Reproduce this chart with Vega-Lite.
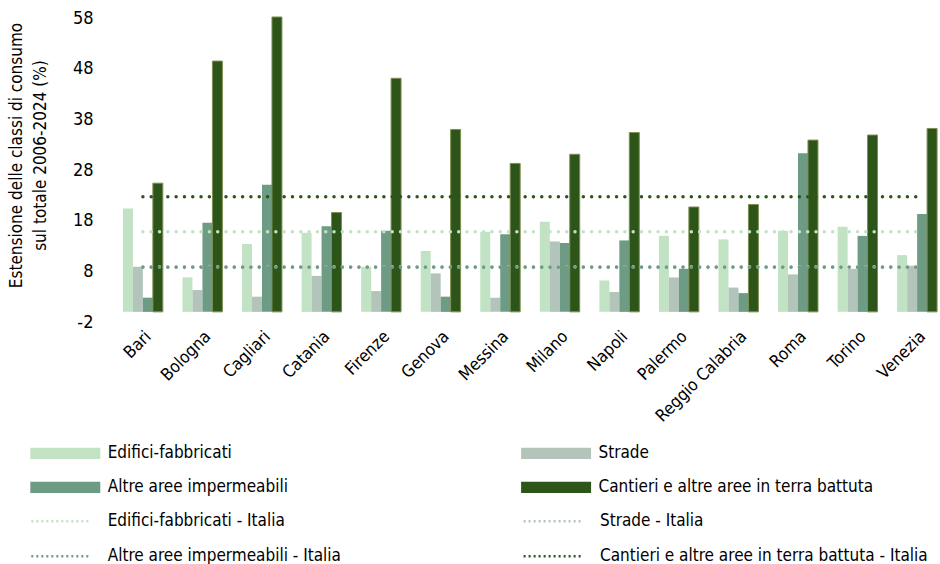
{
  "$schema": "https://vega.github.io/schema/vega-lite/v6.json",
  "width": 832,
  "height": 304,
  "autosize": "none",
  "padding": {"left": 114, "top": 18, "right": 0, "bottom": 242},
  "background": "white",
  "config": {"font": "DejaVu Sans Condensed, Liberation Sans, sans-serif", "view": {"stroke": null}},
  "datasets": {
    "bars": [
      {"city": "Bari", "series": "Edifici-fabbricati", "value": 20.4},
      {"city": "Bari", "series": "Strade", "value": 8.9},
      {"city": "Bari", "series": "Altre aree impermeabili", "value": 2.8},
      {"city": "Bari", "series": "Cantieri e altre aree in terra battuta", "value": 25.4},
      {"city": "Bologna", "series": "Edifici-fabbricati", "value": 6.8},
      {"city": "Bologna", "series": "Strade", "value": 4.3},
      {"city": "Bologna", "series": "Altre aree impermeabili", "value": 17.6},
      {"city": "Bologna", "series": "Cantieri e altre aree in terra battuta", "value": 49.5},
      {"city": "Cagliari", "series": "Edifici-fabbricati", "value": 13.4},
      {"city": "Cagliari", "series": "Strade", "value": 3.0},
      {"city": "Cagliari", "series": "Altre aree impermeabili", "value": 25.1},
      {"city": "Cagliari", "series": "Cantieri e altre aree in terra battuta", "value": 58.2},
      {"city": "Catania", "series": "Edifici-fabbricati", "value": 15.6},
      {"city": "Catania", "series": "Strade", "value": 7.1},
      {"city": "Catania", "series": "Altre aree impermeabili", "value": 16.9},
      {"city": "Catania", "series": "Cantieri e altre aree in terra battuta", "value": 19.6},
      {"city": "Firenze", "series": "Edifici-fabbricati", "value": 8.9},
      {"city": "Firenze", "series": "Strade", "value": 4.1},
      {"city": "Firenze", "series": "Altre aree impermeabili", "value": 16.0},
      {"city": "Firenze", "series": "Cantieri e altre aree in terra battuta", "value": 46.1},
      {"city": "Genova", "series": "Edifici-fabbricati", "value": 12.0},
      {"city": "Genova", "series": "Strade", "value": 7.6},
      {"city": "Genova", "series": "Altre aree impermeabili", "value": 3.0},
      {"city": "Genova", "series": "Cantieri e altre aree in terra battuta", "value": 36.0},
      {"city": "Messina", "series": "Edifici-fabbricati", "value": 15.8},
      {"city": "Messina", "series": "Strade", "value": 2.8},
      {"city": "Messina", "series": "Altre aree impermeabili", "value": 15.3},
      {"city": "Messina", "series": "Cantieri e altre aree in terra battuta", "value": 29.3},
      {"city": "Milano", "series": "Edifici-fabbricati", "value": 17.8},
      {"city": "Milano", "series": "Strade", "value": 13.9},
      {"city": "Milano", "series": "Altre aree impermeabili", "value": 13.6},
      {"city": "Milano", "series": "Cantieri e altre aree in terra battuta", "value": 31.1},
      {"city": "Napoli", "series": "Edifici-fabbricati", "value": 6.2},
      {"city": "Napoli", "series": "Strade", "value": 3.9},
      {"city": "Napoli", "series": "Altre aree impermeabili", "value": 14.1},
      {"city": "Napoli", "series": "Cantieri e altre aree in terra battuta", "value": 35.4},
      {"city": "Palermo", "series": "Edifici-fabbricati", "value": 15.0},
      {"city": "Palermo", "series": "Strade", "value": 6.8},
      {"city": "Palermo", "series": "Altre aree impermeabili", "value": 8.5},
      {"city": "Palermo", "series": "Cantieri e altre aree in terra battuta", "value": 20.7},
      {"city": "Reggio Calabria", "series": "Edifici-fabbricati", "value": 14.3},
      {"city": "Reggio Calabria", "series": "Strade", "value": 4.8},
      {"city": "Reggio Calabria", "series": "Altre aree impermeabili", "value": 3.7},
      {"city": "Reggio Calabria", "series": "Cantieri e altre aree in terra battuta", "value": 21.2},
      {"city": "Roma", "series": "Edifici-fabbricati", "value": 16.0},
      {"city": "Roma", "series": "Strade", "value": 7.4},
      {"city": "Roma", "series": "Altre aree impermeabili", "value": 31.3},
      {"city": "Roma", "series": "Cantieri e altre aree in terra battuta", "value": 33.9},
      {"city": "Torino", "series": "Edifici-fabbricati", "value": 16.8},
      {"city": "Torino", "series": "Strade", "value": 8.5},
      {"city": "Torino", "series": "Altre aree impermeabili", "value": 15.0},
      {"city": "Torino", "series": "Cantieri e altre aree in terra battuta", "value": 34.9},
      {"city": "Venezia", "series": "Edifici-fabbricati", "value": 11.2},
      {"city": "Venezia", "series": "Strade", "value": 9.1},
      {"city": "Venezia", "series": "Altre aree impermeabili", "value": 19.3},
      {"city": "Venezia", "series": "Cantieri e altre aree in terra battuta", "value": 36.2}
    ],
    "lines": [
      {"city": "Bari", "series": "Edifici-fabbricati - Italia", "value": 15.8},
      {"city": "Bologna", "series": "Edifici-fabbricati - Italia", "value": 15.8},
      {"city": "Cagliari", "series": "Edifici-fabbricati - Italia", "value": 15.8},
      {"city": "Catania", "series": "Edifici-fabbricati - Italia", "value": 15.8},
      {"city": "Firenze", "series": "Edifici-fabbricati - Italia", "value": 15.8},
      {"city": "Genova", "series": "Edifici-fabbricati - Italia", "value": 15.8},
      {"city": "Messina", "series": "Edifici-fabbricati - Italia", "value": 15.8},
      {"city": "Milano", "series": "Edifici-fabbricati - Italia", "value": 15.8},
      {"city": "Napoli", "series": "Edifici-fabbricati - Italia", "value": 15.8},
      {"city": "Palermo", "series": "Edifici-fabbricati - Italia", "value": 15.8},
      {"city": "Reggio Calabria", "series": "Edifici-fabbricati - Italia", "value": 15.8},
      {"city": "Roma", "series": "Edifici-fabbricati - Italia", "value": 15.8},
      {"city": "Torino", "series": "Edifici-fabbricati - Italia", "value": 15.8},
      {"city": "Venezia", "series": "Edifici-fabbricati - Italia", "value": 15.8},
      {"city": "Bari", "series": "Strade - Italia", "value": 8.9},
      {"city": "Bologna", "series": "Strade - Italia", "value": 8.9},
      {"city": "Cagliari", "series": "Strade - Italia", "value": 8.9},
      {"city": "Catania", "series": "Strade - Italia", "value": 8.9},
      {"city": "Firenze", "series": "Strade - Italia", "value": 8.9},
      {"city": "Genova", "series": "Strade - Italia", "value": 8.9},
      {"city": "Messina", "series": "Strade - Italia", "value": 8.9},
      {"city": "Milano", "series": "Strade - Italia", "value": 8.9},
      {"city": "Napoli", "series": "Strade - Italia", "value": 8.9},
      {"city": "Palermo", "series": "Strade - Italia", "value": 8.9},
      {"city": "Reggio Calabria", "series": "Strade - Italia", "value": 8.9},
      {"city": "Roma", "series": "Strade - Italia", "value": 8.9},
      {"city": "Torino", "series": "Strade - Italia", "value": 8.9},
      {"city": "Venezia", "series": "Strade - Italia", "value": 8.9},
      {"city": "Bari", "series": "Altre aree impermeabili - Italia", "value": 8.8},
      {"city": "Bologna", "series": "Altre aree impermeabili - Italia", "value": 8.8},
      {"city": "Cagliari", "series": "Altre aree impermeabili - Italia", "value": 8.8},
      {"city": "Catania", "series": "Altre aree impermeabili - Italia", "value": 8.8},
      {"city": "Firenze", "series": "Altre aree impermeabili - Italia", "value": 8.8},
      {"city": "Genova", "series": "Altre aree impermeabili - Italia", "value": 8.8},
      {"city": "Messina", "series": "Altre aree impermeabili - Italia", "value": 8.8},
      {"city": "Milano", "series": "Altre aree impermeabili - Italia", "value": 8.8},
      {"city": "Napoli", "series": "Altre aree impermeabili - Italia", "value": 8.8},
      {"city": "Palermo", "series": "Altre aree impermeabili - Italia", "value": 8.8},
      {"city": "Reggio Calabria", "series": "Altre aree impermeabili - Italia", "value": 8.8},
      {"city": "Roma", "series": "Altre aree impermeabili - Italia", "value": 8.8},
      {"city": "Torino", "series": "Altre aree impermeabili - Italia", "value": 8.8},
      {"city": "Venezia", "series": "Altre aree impermeabili - Italia", "value": 8.8},
      {"city": "Bari", "series": "Cantieri e altre aree in terra battuta - Italia", "value": 22.7},
      {"city": "Bologna", "series": "Cantieri e altre aree in terra battuta - Italia", "value": 22.7},
      {"city": "Cagliari", "series": "Cantieri e altre aree in terra battuta - Italia", "value": 22.7},
      {"city": "Catania", "series": "Cantieri e altre aree in terra battuta - Italia", "value": 22.7},
      {"city": "Firenze", "series": "Cantieri e altre aree in terra battuta - Italia", "value": 22.7},
      {"city": "Genova", "series": "Cantieri e altre aree in terra battuta - Italia", "value": 22.7},
      {"city": "Messina", "series": "Cantieri e altre aree in terra battuta - Italia", "value": 22.7},
      {"city": "Milano", "series": "Cantieri e altre aree in terra battuta - Italia", "value": 22.7},
      {"city": "Napoli", "series": "Cantieri e altre aree in terra battuta - Italia", "value": 22.7},
      {"city": "Palermo", "series": "Cantieri e altre aree in terra battuta - Italia", "value": 22.7},
      {"city": "Reggio Calabria", "series": "Cantieri e altre aree in terra battuta - Italia", "value": 22.7},
      {"city": "Roma", "series": "Cantieri e altre aree in terra battuta - Italia", "value": 22.7},
      {"city": "Torino", "series": "Cantieri e altre aree in terra battuta - Italia", "value": 22.7},
      {"city": "Venezia", "series": "Cantieri e altre aree in terra battuta - Italia", "value": 22.7}
    ]
  },
  "encoding": {
    "x": {
      "field": "city", "type": "nominal", "sort": null,
      "scale": {"paddingInner": 0.33, "paddingOuter": 0.15},
      "axis": {"title": null, "domain": false, "ticks": false, "labelAngle": -45, "labelAlign": "right", "labelBaseline": "top", "labelFontSize": 17, "labelColor": "#000000", "labelPadding": 6}
    },
    "y": {
      "field": "value", "type": "quantitative",
      "scale": {"domain": [-2, 58], "nice": false, "zero": false},
      "axis": {
        "values": [-2, 8, 18, 28, 38, 48, 58], "grid": false, "domain": false, "ticks": false,
        "labelExpr": "'' + datum.value",
        "labelFontSize": 18, "labelColor": "#000000", "labelPadding": 21,
        "title": ["Estensione delle classi di consumo", "sul totale 2006-2024 (%)"],
        "titleFontSize": 17, "titleFontWeight": "normal", "titleColor": "#000000",
        "titleAngle": -90, "titleAlign": "center", "titleBaseline": "top",
        "titleX": -106, "titleY": 137, "titleLineHeight": 24
      }
    }
  },
  "layer": [
    {
      "data": {"name": "bars"},
      "mark": {"type": "bar", "stroke": "#7f8f52"},
      "encoding": {
        "xOffset": {"field": "series", "type": "nominal", "sort": ["Edifici-fabbricati", "Strade", "Altre aree impermeabili", "Cantieri e altre aree in terra battuta"]},
        "color": {
          "field": "series", "type": "nominal",
          "scale": {
            "domain": ["Edifici-fabbricati", "Strade", "Altre aree impermeabili", "Cantieri e altre aree in terra battuta"],
            "range": ["#c2e2c4", "#b3c5ba", "#6e9b84", "#2d5519"]
          },
          "legend": {
            "orient": "none", "legendX": -60.7, "legendY": 423.3, "columns": 2, "direction": "horizontal", "title": null,
            "symbolType": "M-3,-0.48H3V0.48H-3Z", "symbolSize": 544, "symbolStrokeWidth": 0,
            "labelFontSize": 17, "labelColor": "#000000", "labelOffset": 30.4, "labelLimit": 500,
            "rowPadding": 14, "columnPadding": 232.8, "padding": 0
          }
        },
        "strokeWidth": {
          "condition": {"test": "datum.series === 'Cantieri e altre aree in terra battuta'", "value": 1},
          "value": 0
        }
      }
    },
    {
      "data": {"values": [{}]},
      "mark": {"type": "rule", "color": "#d9d9d9", "strokeWidth": 2},
      "encoding": {"x": null, "y": {"datum": 0}}
    },
    {
      "data": {"name": "lines"},
      "mark": {"type": "line", "strokeWidth": 3.5, "strokeCap": "round", "strokeDash": [0.01, 8.3]},
      "encoding": {
        "stroke": {
          "field": "series", "type": "nominal",
          "scale": {
            "domain": ["Edifici-fabbricati - Italia", "Strade - Italia", "Altre aree impermeabili - Italia", "Cantieri e altre aree in terra battuta - Italia"],
            "range": ["#c2e2c4", "#b3c5ba", "#6e9b84", "#2d5519"]
          },
          "legend": {
            "orient": "none", "legendX": -60.7, "legendY": 490.3, "columns": 2, "direction": "horizontal", "title": null,
            "symbolType": "M-3,0H2.06", "symbolSize": 544, "symbolStrokeWidth": 2.5, "symbolDash": [2, 3],
            "labelFontSize": 17, "labelColor": "#000000", "labelOffset": 28.4, "labelLimit": 500,
            "rowPadding": 14, "columnPadding": 177.3, "padding": 0
          }
        }
      }
    }
  ]
}
